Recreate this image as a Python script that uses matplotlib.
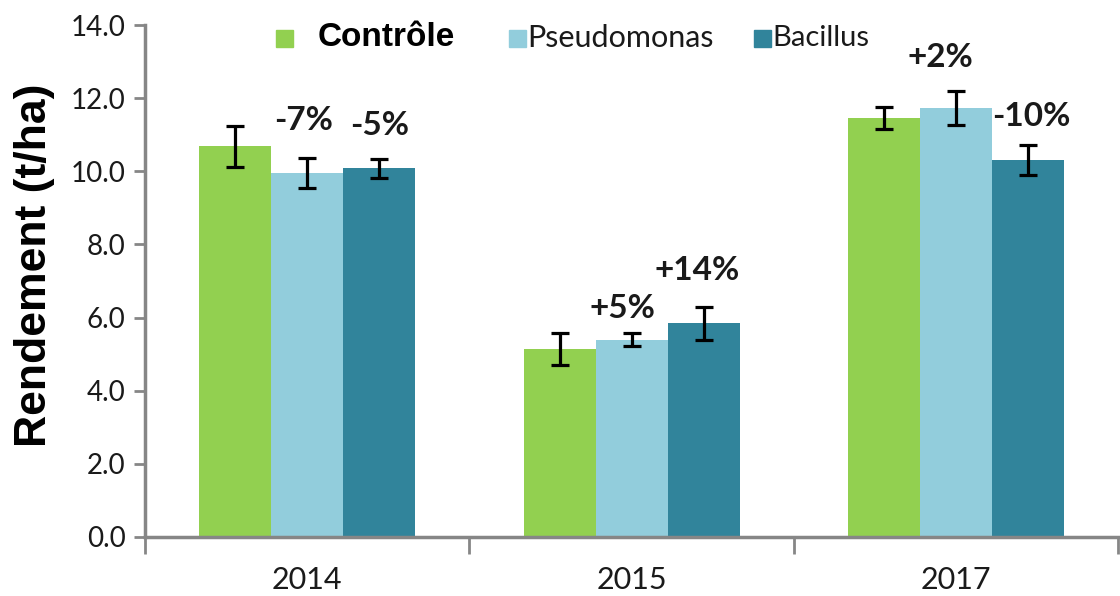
import matplotlib
matplotlib.use("Agg")
import matplotlib.pyplot as plt
import numpy as np
from matplotlib.patches import Rectangle

years = ["2014", "2015", "2017"]
series = ["Contrôle", "Pseudomonas", "Bacillus"]
controle = [10.69, 5.14, 11.46]
pseudomonas = [9.95, 5.39, 11.73]
bacillus = [10.09, 5.85, 10.31]
err_controle = [0.56, 0.44, 0.29]
err_pseudomonas = [0.41, 0.18, 0.46]
err_bacillus = [0.26, 0.45, 0.40]
pct_labels = [["", "-7%", "-5%"], ["", "+5%", "+14%"], ["", "+2%", "-10%"]]
pct_y = [[0, 11.4, 11.24], [0, 6.26, 7.3], [0, 13.1, 11.5]]
pct_dx = [[0, -0.01, 0.0], [0, -0.03, -0.02], [0, -0.05, 0.01]]
y_ticks = [0, 2, 4, 6, 8, 10, 12, 14]

colors = ["#92D050", "#92CDDC", "#31849B"]
values = [controle, pseudomonas, bacillus]
errs = [err_controle, err_pseudomonas, err_bacillus]

fig = plt.figure(figsize=(11.2, 5.96), dpi=100)
ax = fig.add_axes([0.1295, 0.099, 0.869, 0.859])

x = np.arange(len(years))
w = 0.222
for i in range(3):
    pos = x + (i - 1) * w
    ax.bar(pos, values[i], width=w, color=colors[i], zorder=2)
    ax.errorbar(pos, values[i], yerr=errs[i], fmt="none", ecolor="black",
                elinewidth=2.3, capsize=6.5, capthick=2.3, zorder=3)

for g in range(3):
    for i in range(3):
        if pct_labels[g][i]:
            ax.text(x[g] + (i - 1) * w + pct_dx[g][i], pct_y[g][i], pct_labels[g][i],
                    ha="center", va="center", fontsize=24, fontweight="bold",
                    family="Lato", color="#1a1a1a")

ax.set_xlim(-0.5, 2.5)
ax.set_ylim(0, 14)
ax.set_yticks(y_ticks)
ax.set_yticklabels([f"{v:.1f}" for v in y_ticks], family="Lato", fontsize=20, color="#1a1a1a")
ax.set_xticks([-0.5, 0.5, 1.5, 2.5])
ax.set_xticklabels([])
ax.tick_params(axis="x", length=12, width=2, color="#868686", direction="out")
ax.tick_params(axis="y", length=8, width=2, color="#868686", direction="out", pad=6)
for t, yr in zip(x, years):
    ax.text(t, -0.8, yr, ha="center", va="top", fontsize=22, family="Lato",
            color="#1a1a1a", transform=ax.transData)

for s in ["top", "right"]:
    ax.spines[s].set_visible(False)
for s in ["left", "bottom"]:
    ax.spines[s].set_color("#868686")
    ax.spines[s].set_linewidth(2.5)

fig.text(0.031, 0.555, "Rendement (t/ha)", rotation=90, ha="center", va="center",
         fontsize=32, fontweight="bold", family="Liberation Sans")

# legend (manual)
sq = 17 / 1120
sqh = 17 / 596
leg_y = 1 - 38 / 596
legend_items = [(276, 318, "Liberation Sans", "bold", 24), (509, 527, "Lato", "normal", 22),
                (754, 772, "Lato", "normal", 21)]
for (sx, tx, fam, fw, fs), name, c in zip(legend_items, series, colors):
    fig.patches.append(Rectangle((sx / 1120, leg_y - sqh / 2), sq, sqh,
                                 transform=fig.transFigure, color=c))
    fig.text(tx / 1120, leg_y, name, ha="left", va="center", fontsize=fs,
             family=fam, fontweight=fw, color="black" if fw == "bold" else "#1a1a1a")

fig.savefig("out.png", dpi=100)
